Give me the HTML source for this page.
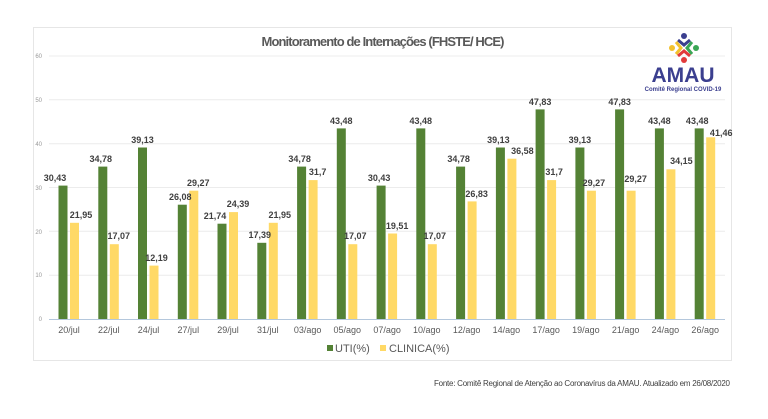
<!DOCTYPE html>
<html><head><meta charset="utf-8"><style>
body{margin:0;background:#fff;}
svg{display:block;font-family:"Liberation Sans",sans-serif;}
.v{font-size:9px;font-weight:bold;fill:#404040;text-anchor:middle}
.x{font-size:9px;fill:#595959;text-anchor:middle}
.t{font-size:6px;fill:#999;text-anchor:end}
</style></head><body>
<svg width="768" height="419" viewBox="0 0 768 419">
<rect x="33.5" y="27.5" width="698" height="333" fill="#fff" stroke="#e6e6e6"/>
<text x="383" y="46" text-anchor="middle" font-size="13" font-weight="bold" fill="#595959" textLength="243">Monitoramento de Internações (FHSTE/ HCE)</text>
<g stroke="#ececec" stroke-width="1">
<line x1="49" x2="725" y1="56" y2="56"/><line x1="49" x2="725" y1="99.8" y2="99.8"/><line x1="49" x2="725" y1="143.7" y2="143.7"/><line x1="49" x2="725" y1="187.5" y2="187.5"/><line x1="49" x2="725" y1="231.3" y2="231.3"/><line x1="49" x2="725" y1="275.2" y2="275.2"/>
</g>
<line x1="49" x2="725" y1="319.5" y2="319.5" stroke="#b4c7dc"/>
<g class="t"><text x="42" y="58">60</text><text x="42" y="102">50</text><text x="42" y="146">40</text><text x="42" y="190">30</text><text x="42" y="234">20</text><text x="42" y="277">10</text><text x="42" y="321">0</text></g>
<g transform="translate(684,48)">
<circle cx="0" cy="-12" r="3" fill="#3b3f8f"/><path d="M-6,-8 L0,-3 L6,-8" stroke="#3b3f8f" stroke-width="3" fill="none"/>
<circle cx="-12" cy="0" r="3" fill="#f2c12e"/><path d="M-8,-6 L-3,0 L-8,6" stroke="#f2c12e" stroke-width="3" fill="none"/>
<circle cx="12" cy="0" r="3" fill="#3aa655"/><path d="M8,-6 L3,0 L8,6" stroke="#3aa655" stroke-width="3" fill="none"/>
<circle cx="0" cy="12" r="3" fill="#e23b3b"/><path d="M-6,8 L0,3 L6,8" stroke="#e23b3b" stroke-width="3" fill="none"/>
</g>
<text x="683" y="82" text-anchor="middle" font-size="21" font-weight="bold" fill="#3b3f8f">AMAU</text>
<text x="683" y="91" text-anchor="middle" font-size="6" font-weight="bold" fill="#3b3f8f">Comitê Regional COVID-19</text>

<g transform="translate(69,0)"><rect x="-10.5" y="185.6" width="9" height="133.4" fill="#548235"/><rect x="1" y="222.8" width="9" height="96.2" fill="#ffd966"/><text class="v" x="-14" y="181">30,43</text><text class="v" x="12" y="218">21,95</text><text class="x" x="0" y="333">20/jul</text></g>
<g transform="translate(108.8,0)"><rect x="-10.5" y="166.6" width="9" height="152.4" fill="#548235"/><rect x="1" y="244.2" width="9" height="74.8" fill="#ffd966"/><text class="v" x="-8" y="162">34,78</text><text class="v" x="10" y="239">17,07</text><text class="x" x="0" y="333">22/jul</text></g>
<g transform="translate(148.5,0)"><rect x="-10.5" y="147.5" width="9" height="171.5" fill="#548235"/><rect x="1" y="265.6" width="9" height="53.4" fill="#ffd966"/><text class="v" x="-6" y="143">39,13</text><text class="v" x="8" y="261">12,19</text><text class="x" x="0" y="333">24/jul</text></g>
<g transform="translate(188.3,0)"><rect x="-10.5" y="204.7" width="9" height="114.3" fill="#548235"/><rect x="1" y="190.7" width="9" height="128.3" fill="#ffd966"/><text class="v" x="-8" y="200">26,08</text><text class="v" x="10" y="186">29,27</text><text class="x" x="0" y="333">27/jul</text></g>
<g transform="translate(228,0)"><rect x="-10.5" y="223.7" width="9" height="95.3" fill="#548235"/><rect x="1" y="212.1" width="9" height="106.9" fill="#ffd966"/><text class="v" x="-13" y="219">21,74</text><text class="v" x="10" y="207">24,39</text><text class="x" x="0" y="333">29/jul</text></g>
<g transform="translate(267.8,0)"><rect x="-10.5" y="242.8" width="9" height="76.2" fill="#548235"/><rect x="1" y="222.8" width="9" height="96.2" fill="#ffd966"/><text class="v" x="-8" y="238">17,39</text><text class="v" x="12" y="218">21,95</text><text class="x" x="0" y="333">31/jul</text></g>
<g transform="translate(307.6,0)"><rect x="-10.5" y="166.6" width="9" height="152.4" fill="#548235"/><rect x="1" y="180.1" width="9" height="138.9" fill="#ffd966"/><text class="v" x="-8" y="162">34,78</text><text class="v" x="10" y="175">31,7</text><text class="x" x="0" y="333">03/ago</text></g>
<g transform="translate(347.3,0)"><rect x="-10.5" y="128.4" width="9" height="190.6" fill="#548235"/><rect x="1" y="244.2" width="9" height="74.8" fill="#ffd966"/><text class="v" x="-6" y="124">43,48</text><text class="v" x="8" y="239">17,07</text><text class="x" x="0" y="333">05/ago</text></g>
<g transform="translate(387.1,0)"><rect x="-10.5" y="185.6" width="9" height="133.4" fill="#548235"/><rect x="1" y="233.5" width="9" height="85.5" fill="#ffd966"/><text class="v" x="-8" y="181">30,43</text><text class="v" x="10" y="229">19,51</text><text class="x" x="0" y="333">07/ago</text></g>
<g transform="translate(426.8,0)"><rect x="-10.5" y="128.4" width="9" height="190.6" fill="#548235"/><rect x="1" y="244.2" width="9" height="74.8" fill="#ffd966"/><text class="v" x="-6" y="124">43,48</text><text class="v" x="8" y="239">17,07</text><text class="x" x="0" y="333">10/ago</text></g>
<g transform="translate(466.6,0)"><rect x="-10.5" y="166.6" width="9" height="152.4" fill="#548235"/><rect x="1" y="201.4" width="9" height="117.6" fill="#ffd966"/><text class="v" x="-8" y="162">34,78</text><text class="v" x="10" y="197">26,83</text><text class="x" x="0" y="333">12/ago</text></g>
<g transform="translate(506.4,0)"><rect x="-10.5" y="147.5" width="9" height="171.5" fill="#548235"/><rect x="1" y="158.7" width="9" height="160.3" fill="#ffd966"/><text class="v" x="-8" y="143">39,13</text><text class="v" x="16" y="154">36,58</text><text class="x" x="0" y="333">14/ago</text></g>
<g transform="translate(546.1,0)"><rect x="-10.5" y="109.4" width="9" height="209.6" fill="#548235"/><rect x="1" y="180.1" width="9" height="138.9" fill="#ffd966"/><text class="v" x="-6" y="105">47,83</text><text class="v" x="8" y="175">31,7</text><text class="x" x="0" y="333">17/ago</text></g>
<g transform="translate(585.9,0)"><rect x="-10.5" y="147.5" width="9" height="171.5" fill="#548235"/><rect x="1" y="190.7" width="9" height="128.3" fill="#ffd966"/><text class="v" x="-6" y="143">39,13</text><text class="v" x="8" y="186">29,27</text><text class="x" x="0" y="333">19/ago</text></g>
<g transform="translate(625.6,0)"><rect x="-10.5" y="109.4" width="9" height="209.6" fill="#548235"/><rect x="1" y="190.7" width="9" height="128.3" fill="#ffd966"/><text class="v" x="-6" y="105">47,83</text><text class="v" x="10" y="182">29,27</text><text class="x" x="0" y="333">21/ago</text></g>
<g transform="translate(665.4,0)"><rect x="-10.5" y="128.4" width="9" height="190.6" fill="#548235"/><rect x="1" y="169.3" width="9" height="149.7" fill="#ffd966"/><text class="v" x="-6" y="124">43,48</text><text class="v" x="16" y="164">34,15</text><text class="x" x="0" y="333">24/ago</text></g>
<g transform="translate(705.2,0)"><rect x="-10.5" y="128.4" width="9" height="190.6" fill="#548235"/><rect x="1" y="137.3" width="9" height="181.7" fill="#ffd966"/><text class="v" x="-8" y="124">43,48</text><text class="v" x="16" y="136">41,46</text><text class="x" x="0" y="333">26/ago</text></g>

<rect x="327" y="345" width="6" height="6" fill="#548235"/>
<text x="335" y="352" font-size="11" fill="#595959">UTI(%)</text>
<rect x="380" y="345" width="6" height="6" fill="#ffd966"/>
<text x="389" y="352" font-size="11" fill="#595959">CLINICA(%)</text>
<text x="730" y="386" text-anchor="end" font-size="8" fill="#404040" textLength="296">Fonte: Comitê Regional de Atenção ao Coronavírus da AMAU. Atualizado em 26/08/2020</text>
</svg>
</body></html>
